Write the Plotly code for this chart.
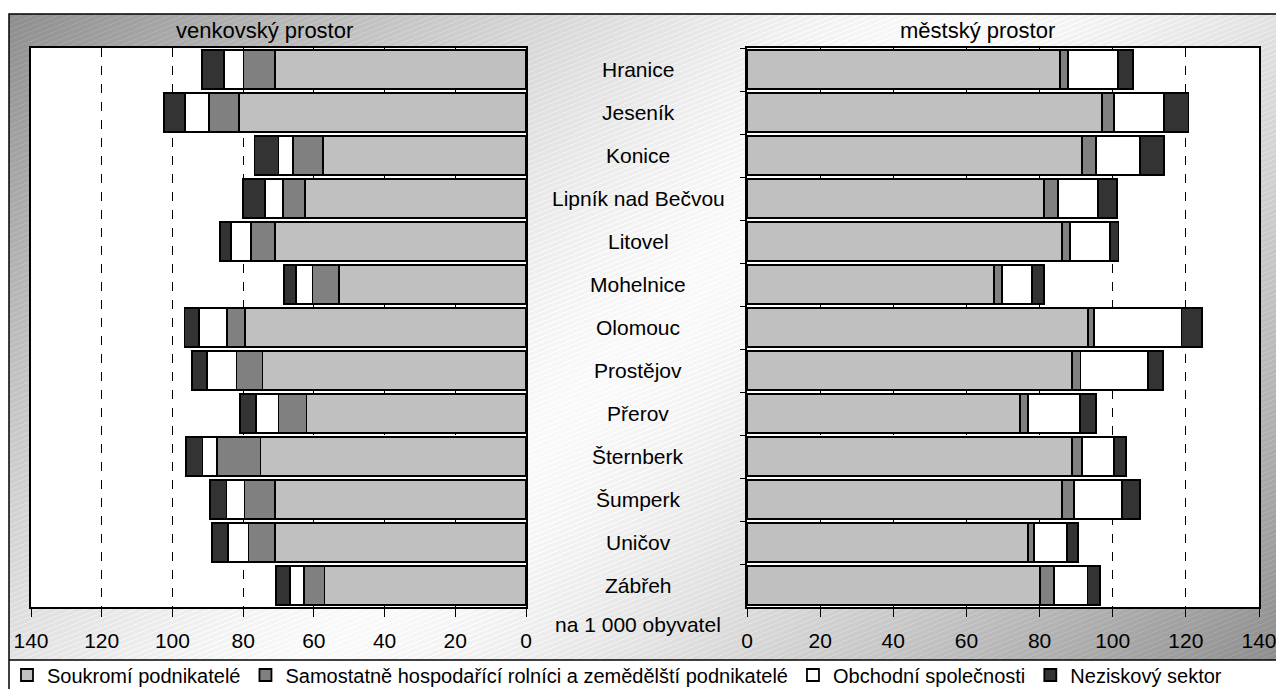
import base64
import struct
import zlib

import numpy as np
import plotly.graph_objects as go

# ---------------- data ----------------
mesta = ["Hranice", "Jeseník", "Konice", "Lipník nad Bečvou", "Litovel", "Mohelnice",
         "Olomouc", "Prostějov", "Přerov", "Šternberk", "Šumperk", "Uničov", "Zábřeh"]

serie = ["Soukromí podnikatelé",
         "Samostatně hospodařící rolníci a zemědělští podnikatelé",
         "Obchodní společnosti",
         "Neziskový sektor"]

# venkovský prostor (na 1 000 obyvatel)
venkov_soukromi = [70.9, 81.2, 57.5, 62.6, 71.0, 52.9, 79.5, 74.5, 62.1, 75.1, 71.1, 71.1, 57.0]
venkov_rolnici = [9.0, 8.5, 8.5, 6.2, 6.8, 7.5, 5.1, 7.4, 7.9, 12.3, 8.5, 7.4, 5.7]
venkov_obchodni = [5.5, 6.8, 4.0, 5.0, 5.7, 4.6, 7.9, 8.4, 6.3, 4.1, 5.1, 5.7, 4.0]
venkov_nezisk = [6.2, 5.8, 6.8, 6.2, 3.0, 3.5, 4.1, 4.1, 4.5, 4.6, 4.6, 4.6, 4.0]

# městský prostor (na 1 000 obyvatel)
mesto_soukromi = [85.6, 97.0, 91.5, 81.2, 86.1, 67.6, 93.3, 88.8, 74.6, 88.8, 86.1, 76.8, 80.1]
mesto_rolnici = [2.2, 3.4, 4.0, 3.8, 2.3, 2.2, 1.6, 2.4, 2.3, 2.7, 3.4, 1.6, 3.8]
mesto_obchodni = [13.6, 13.6, 11.9, 11.0, 10.8, 8.1, 23.9, 18.4, 14.1, 8.8, 13.0, 9.2, 9.2]
mesto_nezisk = [4.1, 6.7, 6.6, 5.1, 2.4, 3.4, 5.6, 4.1, 4.5, 3.4, 5.0, 2.9, 3.4]

osa_ticky = [0, 20, 40, 60, 80, 100, 120, 140]

barvy = ["#c0c0c0", "#808080", "#ffffff", "#333333"]

# ---------------- background gradient image ----------------
W, H = 1267, 646
X, Y = np.meshgrid(np.arange(W), np.arange(H))
t = (X + Y) / (W + H)
val = 250 - 108 * np.abs(2 * t - 1) ** 1.35
hatch = ((Y + 0.4 * X) % 5) < 1
val = np.where(hatch, val + 12, val)
img = np.clip(val, 0, 255).astype(np.uint8)


def png_gray(arr):
    h, w = arr.shape
    raw = b"".join(b"\x00" + arr[i].tobytes() for i in range(h))

    def chunk(tag, data):
        return (struct.pack(">I", len(data)) + tag + data
                + struct.pack(">I", zlib.crc32(tag + data) & 0xffffffff))

    return (b"\x89PNG\r\n\x1a\n"
            + chunk(b"IHDR", struct.pack(">IIBBBBB", w, h, 8, 0, 0, 0, 0))
            + chunk(b"IDAT", zlib.compress(raw, 9))
            + chunk(b"IEND", b""))


bg_uri = "data:image/png;base64," + base64.b64encode(png_gray(img)).decode()

# ---------------- figure ----------------
FW, FH = 1276, 689
ML, MR, MT, MB = 31, 17, 48, 82
PW = FW - ML - MR
PH = FH - MT - MB


def px(x):
    return (x - ML) / PW


def py(y):
    return (FH - MB - y) / PH


FONT = "Liberation Sans, Arial, sans-serif"

fig = go.Figure()

venkov = [venkov_soukromi, venkov_rolnici, venkov_obchodni, venkov_nezisk]
mesto = [mesto_soukromi, mesto_rolnici, mesto_obchodni, mesto_nezisk]

for i, name in enumerate(serie):
    fig.add_trace(go.Bar(
        y=mesta, x=venkov[i], orientation="h", name=name,
        marker=dict(color=barvy[i], line=dict(color="#000000", width=1.8)),
        xaxis="x", yaxis="y", showlegend=True, legendgroup=name,
    ))
for i, name in enumerate(serie):
    fig.add_trace(go.Bar(
        y=mesta, x=mesto[i], orientation="h", name=name,
        marker=dict(color=barvy[i], line=dict(color="#000000", width=1.8)),
        xaxis="x2", yaxis="y2", showlegend=False, legendgroup=name,
    ))

left_dom = [0, px(526)]
right_dom = [px(747), 1]

xcommon = dict(
    tickvals=osa_ticky, ticktext=[str(v) for v in osa_ticky],
    showgrid=True, gridcolor="#000000", griddash="dash", gridwidth=1,
    zeroline=False, showline=True, linecolor="#000000", linewidth=1.5,
    mirror=True, ticks="outside", ticklen=8, tickcolor="#000000",
    tickfont=dict(family=FONT, size=21, color="#000000"),
    ticklabelstandoff=6, ticklabeloverflow="allow",
)

fig.update_layout(
    width=FW, height=FH,
    margin=dict(l=ML, r=MR, t=MT, b=MB, pad=0, autoexpand=False),
    paper_bgcolor="#ffffff", plot_bgcolor="#ffffff",
    barmode="stack", bargap=0.09,
    font=dict(family=FONT, size=20, color="#000000"),
    xaxis=dict(domain=left_dom, range=[140, 0], anchor="y", **xcommon),
    xaxis2=dict(domain=right_dom, range=[0, 140], anchor="y2", **xcommon),
    yaxis=dict(domain=[0, 1], anchor="x", categoryorder="array", categoryarray=mesta,
               autorange="reversed", showticklabels=False, ticks="",
               showline=True, linecolor="#000000", linewidth=1.5, mirror=True,
               showgrid=False, zeroline=False),
    yaxis2=dict(domain=[0, 1], anchor="x2", matches="y", categoryorder="array",
                categoryarray=mesta, autorange="reversed", showticklabels=False,
                ticks="outside", ticklen=5, tickson="boundaries", tickcolor="#000000",
                showline=True, linecolor="#000000", linewidth=1.5, mirror=True,
                showgrid=False, zeroline=False),
    legend=dict(orientation="h", x=px(7), xanchor="left", y=py(675), yanchor="middle",
                font=dict(family=FONT, size=20, color="#000000"),
                bgcolor="rgba(0,0,0,0)", traceorder="normal", itemwidth=30,
                tracegroupgap=0),
    images=[dict(source=bg_uri, xref="paper", yref="paper",
                 x=px(9), y=py(14), sizex=px(1276) - px(9), sizey=py(14) - py(660),
                 xanchor="left", yanchor="top", sizing="stretch", layer="below")],
    shapes=[
        dict(type="rect", xref="paper", yref="paper", x0=left_dom[0], x1=left_dom[1],
             y0=0, y1=1, fillcolor="#ffffff", line=dict(width=0), layer="below"),
        dict(type="rect", xref="paper", yref="paper", x0=right_dom[0], x1=right_dom[1],
             y0=0, y1=1, fillcolor="#ffffff", line=dict(width=0), layer="below"),
        dict(type="rect", xref="paper", yref="paper", x0=px(9), x1=px(1290),
             y0=py(700), y1=py(14), fillcolor="rgba(0,0,0,0)",
             line=dict(color="#000000", width=1.5), layer="above"),
        dict(type="line", xref="paper", yref="paper", x0=px(9), x1=px(1290),
             y0=py(660), y1=py(660), line=dict(color="#000000", width=1.5), layer="above"),
    ],
)

annotations = []
for m in mesta:
    annotations.append(dict(text=m, xref="paper", yref="y", x=px(638), y=m,
                            showarrow=False, xanchor="center", yanchor="middle",
                            font=dict(family=FONT, size=21, color="#000000")))
annotations.append(dict(text="na 1 000 obyvatel", xref="paper", yref="paper",
                        x=px(638), y=py(624), showarrow=False, xanchor="center",
                        yanchor="middle", font=dict(family=FONT, size=21, color="#000000")))
annotations.append(dict(text="venkovský prostor", xref="paper", yref="paper",
                        x=px(264), y=py(31), showarrow=False, xanchor="center",
                        yanchor="middle", font=dict(family=FONT, size=22, color="#000000")))
annotations.append(dict(text="městský prostor", xref="paper", yref="paper",
                        x=px(977), y=py(31), showarrow=False, xanchor="center",
                        yanchor="middle", font=dict(family=FONT, size=22, color="#000000")))
fig.update_layout(annotations=annotations)

fig.write_html("out.html", config={"displayModeBar": False},
               post_script="document.body.style.margin='0';document.body.style.overflow='hidden';")
